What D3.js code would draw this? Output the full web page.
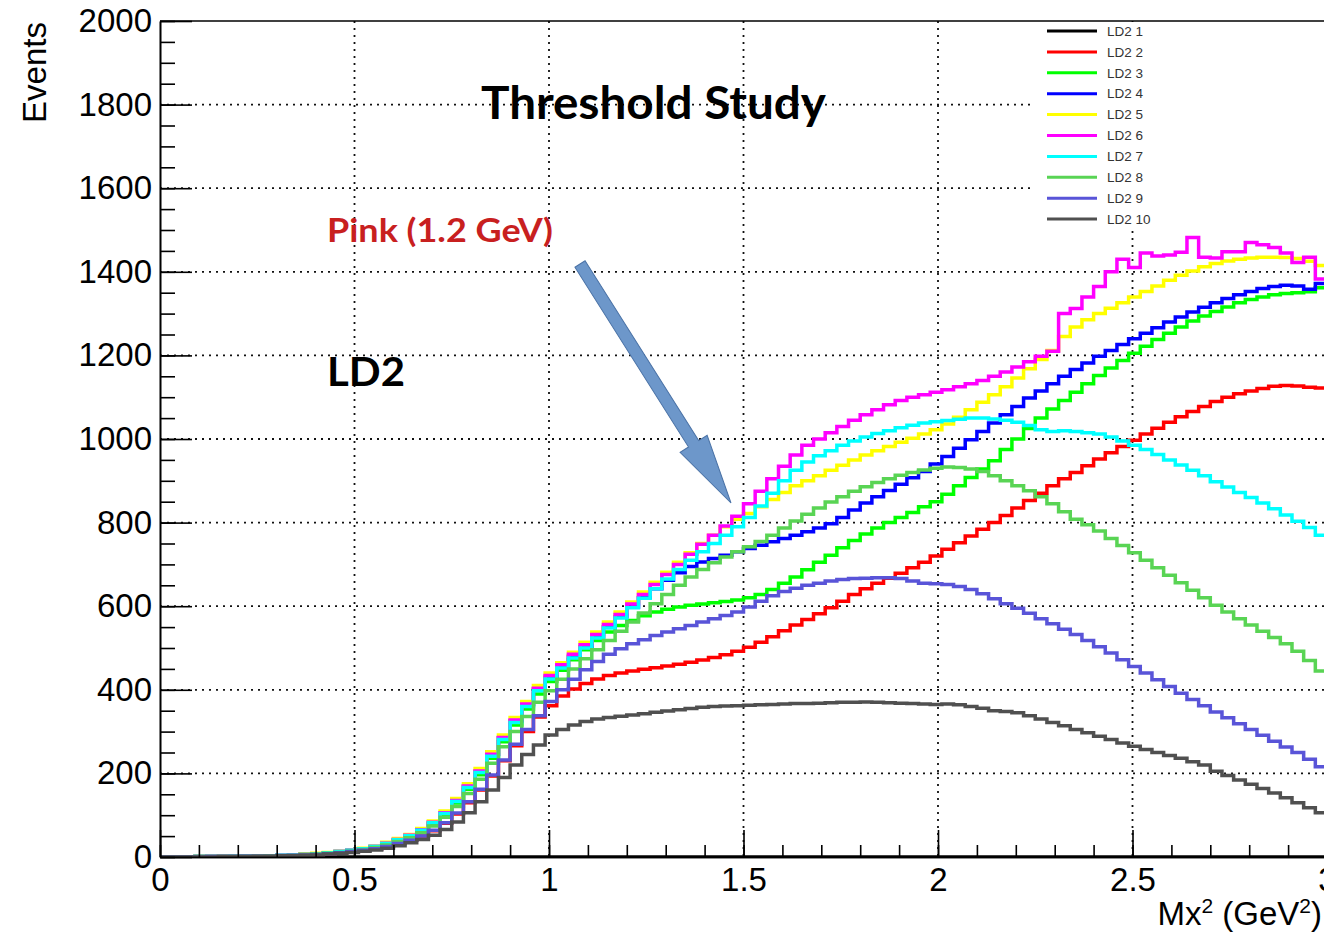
<!DOCTYPE html>
<html>
<head>
<meta charset="utf-8">
<script src="https://cdn.jsdelivr.net/npm/d3@7"></script>
<style>
body { margin: 0; background: #fff; }
svg { display: block; }
</style>
</head>
<body>
<svg id="chart" width="1324" height="933"></svg>
<script>
"use strict";

// Histogram binning (Mx^2, GeV^2)
const xMin = 0, xMax = 3, nBins = 100;

// Bin contents, one array per histogram
const ld2_1 = [
    0,0,0,0,0,0,0,0,0,0, 0,0,0,0,0,0,0,0,0,0,
    0,0,0,0,0,0,0,0,0,0, 0,0,0,0,0,0,0,0,0,0,
    0,0,0,0,0,0,0,0,0,0, 0,0,0,0,0,0,0,0,0,0,
    0,0,0,0,0,0,0,0,0,0, 0,0,0,0,0,0,0,0,0,0,
    0,0,0,0,0,0,0,0,0,0, 0,0,0,0,0,0,0,0,0,0];
const ld2_2 = [
    0,0,0,0,1,1,1,2,2,2, 3,4,5,6,8,10,13,16,20,25,
    32,40,50,63,81,103,130,160,194,230, 266,300,335,362,385,402,415,426,434,440,
    445,449,453,457,461,466,471,477,484,492, 502,514,527,541,555,568,582,596,612,628,
    642,655,667,679,692,705,720,736,752,768, 784,800,817,835,853,870,888,905,920,936,
    952,967,982,997,1012,1026,1040,1053,1066,1078, 1090,1100,1108,1115,1121,1126,1128,1127,1124,1122];
const ld2_3 = [
    0,0,0,1,1,1,2,2,2,3, 4,5,6,8,10,12,15,19,24,31,
    40,50,62,79,101,129,162,197,236,276, 316,354,390,420,447,472,496,518,538,554,
    566,577,586,593,598,602,605,608,611,615, 620,628,640,655,670,687,705,722,740,757,
    773,787,800,812,824,838,850,868,888,908, 928,948,975,1000,1025,1050,1072,1092,1112,1132,
    1152,1170,1188,1205,1222,1238,1253,1268,1282,1294, 1305,1316,1326,1334,1340,1345,1348,1350,1352,1362];
const ld2_4 = [
    0,0,0,1,1,1,2,2,2,3, 4,5,6,8,10,13,16,20,25,33,
    42,52,65,83,106,135,169,205,245,285, 326,364,402,430,456,480,503,527,551,575,
    598,620,642,662,680,695,706,714,722,730, 738,746,754,762,770,778,787,797,812,830,
    847,862,877,892,907,922,940,958,978,998, 1018,1038,1058,1078,1098,1115,1132,1150,1166,1182,
    1198,1212,1226,1240,1253,1266,1280,1292,1304,1315, 1326,1336,1345,1353,1360,1365,1368,1366,1358,1372];
const ld2_5 = [
    0,0,0,1,1,1,2,2,3,3, 4,5,7,9,11,14,17,21,26,35,
    44,54,68,86,110,140,175,212,252,292, 334,372,410,440,465,490,514,538,562,586,
    610,634,657,681,705,728,750,770,790,808, 822,838,855,872,888,900,912,925,937,950,
    962,972,982,992,1002,1012,1022,1036,1052,1070, 1088,1106,1125,1146,1168,1190,1212,1245,1268,1285,
    1300,1313,1326,1340,1353,1366,1380,1392,1402,1412, 1420,1426,1430,1433,1435,1435,1434,1432,1425,1415];
const ld2_6 = [
    0,0,0,1,1,1,2,2,2,3, 4,5,6,8,10,13,16,20,25,33,
    42,52,65,83,106,135,170,206,246,286, 328,366,404,434,460,485,508,532,556,580,
    605,628,652,676,700,724,748,770,792,815, 845,875,905,935,962,985,1000,1015,1030,1045,
    1058,1070,1082,1092,1100,1106,1112,1118,1125,1132, 1140,1150,1160,1172,1185,1198,1210,1300,1312,1340,
    1365,1400,1430,1410,1445,1438,1440,1447,1482,1435, 1433,1448,1448,1470,1465,1458,1445,1422,1435,1383];
const ld2_7 = [
    0,0,0,1,1,1,2,2,2,3, 4,5,6,8,10,13,16,20,25,32,
    41,51,64,82,104,133,166,202,241,281, 322,360,398,426,452,476,500,524,548,572,
    596,619,642,665,688,710,730,750,770,790, 812,840,870,900,925,945,960,972,985,995,
    1005,1013,1020,1027,1033,1038,1041,1044,1047,1050, 1050,1048,1045,1040,1032,1022,1018,1020,1018,1015,
    1012,1005,995,985,975,963,950,938,925,912, 898,885,872,860,847,833,818,803,788,770];
const ld2_8 = [
    0,0,0,1,1,1,1,2,2,3, 3,4,6,7,9,11,14,18,23,29,
    37,46,58,74,95,121,152,186,224,264, 300,336,370,398,425,450,474,496,518,540,
    562,584,606,628,650,670,688,704,718,730, 742,755,770,787,804,820,835,849,862,875,
    886,896,905,913,920,926,930,933,932,928, 922,912,900,888,876,862,845,826,808,795,
    780,762,745,728,710,692,674,656,638,620, 602,586,570,555,540,525,510,492,470,445];
const ld2_9 = [
    0,0,0,0,1,1,1,2,2,2, 3,4,5,6,8,10,13,16,20,25,
    32,40,50,64,82,105,132,162,196,232, 270,305,338,372,400,425,448,468,485,498,
    510,520,530,538,546,554,562,570,578,586, 598,612,625,635,643,650,655,660,664,666,
    667,668,668,666,660,655,654,652,647,640, 630,618,606,595,583,570,558,545,532,518,
    503,488,472,456,440,424,408,392,377,362, 347,333,319,305,291,277,263,250,234,216];
const ld2_10 = [
    0,0,0,0,0,1,1,1,2,2, 3,3,4,5,7,9,11,14,17,21,
    27,34,42,52,66,84,106,132,160,190, 220,245,268,292,305,316,324,330,334,337,
    340,343,346,349,352,355,358,360,361,362, 363,364,365,366,367,367,368,369,370,370,
    371,370,369,368,367,366,365,366,364,360, 356,350,348,345,338,330,322,314,305,297,
    289,281,273,265,257,250,243,236,228,220, 205,195,184,174,164,153,142,130,118,106];

const seriesNames = ['LD2 1', 'LD2 2', 'LD2 3', 'LD2 4', 'LD2 5',
                     'LD2 6', 'LD2 7', 'LD2 8', 'LD2 9', 'LD2 10'];
const seriesValues = [ld2_1, ld2_2, ld2_3, ld2_4, ld2_5,
                      ld2_6, ld2_7, ld2_8, ld2_9, ld2_10];
// ROOT colour indices 1..9 plus a dark grey for the tenth
const seriesColors = ['#000000', '#ff0000', '#00ff00', '#0000ff', '#ffff00',
                      '#ff00ff', '#00ffff', '#59d454', '#5954d8', '#505050'];

const xMajorTicks = [0, 0.5, 1, 1.5, 2, 2.5, 3];
const yMajorTicks = [0, 200, 400, 600, 800, 1000, 1200, 1400, 1600, 1800, 2000];

let svg = d3.select('#chart');
let margin = {left: 160, top: 21};
let chartWidth = 1167, chartHeight = 836;

let x = d3.scaleLinear().domain([xMin, xMax]).range([0, chartWidth]);
let y = d3.scaleLinear().domain([0, 2000]).range([chartHeight, 0]);

svg.append('defs').append('clipPath').attr('id', 'plot-clip')
  .append('rect')
    .attr('x', 0).attr('y', -2)
    .attr('width', chartWidth).attr('height', chartHeight + 2);

let g = svg.append('g')
    .attr('transform', 'translate(' + margin.left + ',' + margin.top + ')');

// Dotted grid at the major ticks
let grid = g.append('g').attr('class', 'grid')
    .attr('stroke', '#111').attr('stroke-width', 1.8)
    .attr('stroke-dasharray', '2,5');
grid.selectAll('line.gx')
  .data(xMajorTicks.filter(function (d) { return d > xMin && d < xMax; }))
  .enter().append('line')
    .attr('x1', function (d) { return x(d); })
    .attr('x2', function (d) { return x(d); })
    .attr('y1', 0).attr('y2', chartHeight);
grid.selectAll('line.gy')
  .data(yMajorTicks.filter(function (d) { return d > 0 && d < 2000; }))
  .enter().append('line')
    .attr('x1', 0).attr('x2', chartWidth)
    .attr('y1', function (d) { return y(d); })
    .attr('y2', function (d) { return y(d); });

// Histogram outlines, drawn in ROOT order (last on top)
let binEdges = d3.range(nBins + 1).map(function (i) {
    return xMin + i * (xMax - xMin) / nBins;
});
let histLine = d3.line()
    .x(function (d) { return x(d[0]); })
    .y(function (d) { return y(d[1]); })
    .curve(d3.curveStepAfter);
g.append('g').attr('clip-path', 'url(#plot-clip)')
  .selectAll('path')
  .data(seriesValues)
  .enter().append('path')
    .attr('fill', 'none')
    .attr('stroke', function (d, i) { return seriesColors[i]; })
    .attr('stroke-width', 3.5)
    .attr('d', function (vals) {
        let pts = binEdges.map(function (e, i) {
            return [e, vals[Math.min(i, nBins - 1)]];
        });
        return histLine(pts);
    });

// Axes: ticks point into the frame, like ROOT
let axisFont = '"Liberation Sans", Arial, Helvetica, sans-serif';
function styleAxis(sel) {
    sel.select('.domain').attr('stroke', '#000').attr('stroke-width', 1.6);
    sel.selectAll('.tick line').attr('stroke', '#000').attr('stroke-width', 1.6);
    sel.selectAll('text').attr('font-family', axisFont).attr('font-size', 33)
        .attr('fill', '#000');
}

let xMinor = d3.range(0, 31).map(function (i) { return i / 10; });
g.append('g')
    .attr('transform', 'translate(0,' + chartHeight + ')')
    .call(d3.axisBottom(x).tickValues(xMinor).tickSize(-12)
        .tickSizeOuter(0).tickFormat(''))
    .call(styleAxis);
g.append('g')
    .attr('transform', 'translate(0,' + chartHeight + ')')
    .call(d3.axisBottom(x).tickValues(xMajorTicks).tickSize(-27)
        .tickSizeOuter(0).tickPadding(11).tickFormat(d3.format('')))
    .call(styleAxis);

let yMinor = d3.range(0, 41).map(function (i) { return i * 50; });
g.append('g')
    .call(d3.axisLeft(y).tickValues(yMinor).tickSize(-15)
        .tickSizeOuter(0).tickFormat(''))
    .call(styleAxis);
g.append('g')
    .call(d3.axisLeft(y).tickValues(yMajorTicks).tickSize(-32)
        .tickSizeOuter(0).tickPadding(8).tickFormat(d3.format('')))
    .call(styleAxis);

// Top edge of the frame
g.append('line')
    .attr('x1', 0).attr('x2', chartWidth)
    .attr('y1', 0).attr('y2', 0)
    .attr('stroke', '#000').attr('stroke-width', 1.6);

// Axis titles
svg.append('text')
    .attr('transform', 'translate(46,22) rotate(-90)')
    .attr('text-anchor', 'end')
    .attr('font-family', axisFont).attr('font-size', 33)
    .text('Events');
let xTitle = svg.append('text')
    .attr('x', 1322).attr('y', 925)
    .attr('text-anchor', 'end')
    .attr('font-family', axisFont).attr('font-size', 33);
xTitle.append('tspan').text('Mx');
xTitle.append('tspan').attr('dy', -12).attr('font-size', 21).text('2');
xTitle.append('tspan').attr('dy', 12).text(' (GeV');
xTitle.append('tspan').attr('dy', -12).attr('font-size', 21).text('2');
xTitle.append('tspan').attr('dy', 12).text(')');

// Legend box
let legend = svg.append('g').attr('transform', 'translate(1035,22)');
legend.append('rect')
    .attr('width', 300).attr('height', 209)
    .attr('fill', '#fff');
let rows = legend.selectAll('g.row')
  .data(seriesNames)
  .enter().append('g')
    .attr('transform', function (d, i) { return 'translate(0,' + (9 + i * 20.9) + ')'; });
rows.append('line')
    .attr('x1', 12).attr('x2', 62)
    .attr('stroke', function (d, i) { return seriesColors[i]; })
    .attr('stroke-width', 3);
rows.append('text')
    .attr('x', 72).attr('dy', '0.35em')
    .attr('font-family', axisFont).attr('font-size', 13.5)
    .attr('fill', '#333')
    .text(function (d) { return d; });

// Annotations pasted on top of the plot
let noteFont = 'Lato, "Noto Sans", sans-serif';
svg.append('text')
    .attr('x', 481).attr('y', 119)
    .attr('font-family', noteFont).attr('font-weight', 700).attr('font-size', 46)
    .attr('textLength', 345).attr('lengthAdjust', 'spacingAndGlyphs')
    .attr('fill', '#000')
    .text('Threshold Study');
svg.append('text')
    .attr('x', 327).attr('y', 242)
    .attr('font-family', noteFont).attr('font-weight', 700).attr('font-size', 33)
    .attr('textLength', 226).attr('lengthAdjust', 'spacingAndGlyphs')
    .attr('fill', '#c8201f')
    .text('Pink (1.2 GeV)');
svg.append('text')
    .attr('x', 327).attr('y', 386)
    .attr('font-family', noteFont).attr('font-weight', 700).attr('font-size', 40)
    .attr('textLength', 78).attr('lengthAdjust', 'spacingAndGlyphs')
    .attr('fill', '#000')
    .text('LD2');

// Block arrow pointing at the pink curve
let tail = [580, 264], tip = [731, 503];
let len = Math.hypot(tip[0] - tail[0], tip[1] - tail[1]);
let ang = Math.atan2(tip[1] - tail[1], tip[0] - tail[0]) * 180 / Math.PI;
let headLen = 70, headHalf = 16, shaftHalf = 6;
let arrowPts = [[0, -shaftHalf], [len - headLen, -shaftHalf], [len - headLen, -headHalf],
                [len, 0], [len - headLen, headHalf], [len - headLen, shaftHalf], [0, shaftHalf]];
svg.append('polygon')
    .attr('transform', 'translate(' + tail[0] + ',' + tail[1] + ') rotate(' + ang + ')')
    .attr('points', arrowPts.map(function (p) { return p.join(','); }).join(' '))
    .attr('fill', '#6d97ca')
    .attr('stroke', '#4a72a6')
    .attr('stroke-width', 1);
</script>
</body>
</html>
